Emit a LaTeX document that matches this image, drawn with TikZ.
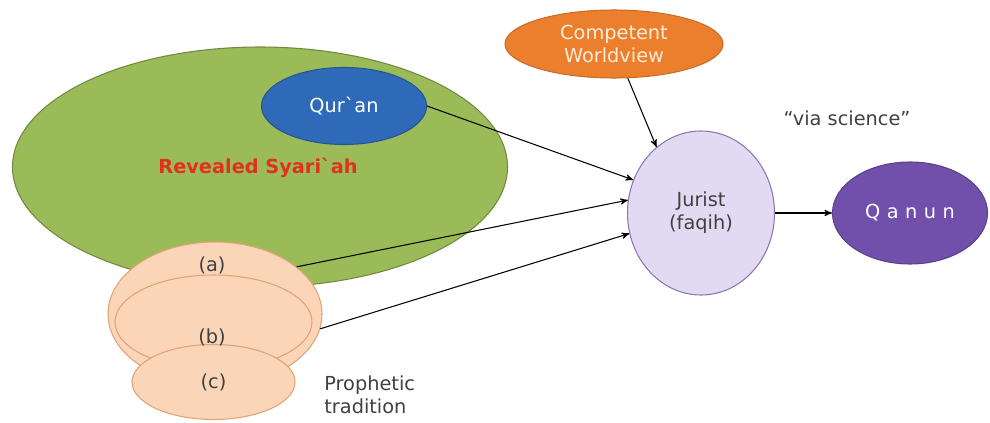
\documentclass[tikz,border=0pt]{standalone}
\usepackage{fontspec}
\setmainfont{DejaVu Sans}
\usepackage{xcolor}
\usepackage{tikz}
\usetikzlibrary{arrows,positioning,shapes.geometric}
\definecolor{syarigreen}{HTML}{9BBB59}
\definecolor{syariline}{HTML}{71893F}
\definecolor{quranblue}{HTML}{2E6AB8}
\definecolor{viewor}{HTML}{EC7F2E}
\definecolor{peach}{HTML}{FBD5B8}
\definecolor{peachline}{HTML}{E2A274}
\definecolor{lavender}{HTML}{E2DAF2}
\definecolor{lavline}{HTML}{8A77AE}
\definecolor{qanunpurple}{HTML}{7050AA}
\definecolor{redtext}{HTML}{E0301E}
\tikzset{blob/.style={draw,ellipse,inner sep=0pt,align=center}}
\tikzset{trad/.style={blob,fill=peach,draw=peachline,text=black!75}}

\begin{document}
\begin{tikzpicture}[-, >=stealth', semithick, font=\fontsize{11}{13}\selectfont]
    \useasboundingbox (0,0) rectangle (19.8,-8.46);
    \node[blob,fill=syarigreen,draw=syariline,minimum width=9.9cm,minimum height=4.8cm] (syariah) at (5.2,-3.34) {};
    \node[blob,fill=quranblue,draw=quranblue!80!black,text=white,minimum width=3.3cm,minimum height=1.54cm] (quran) at (6.88,-2.12) {Qur\textasciigrave an};
    \node[text=redtext,font=\fontsize{11}{13}\selectfont\bfseries] (revealed) at (5.16,-3.36) {Revealed Syari\textasciigrave ah};

    \node[trad,minimum width=4.28cm,minimum height=2.88cm] (tradA) at (4.3,-6.28) {};
    \node[trad,minimum width=3.94cm,minimum height=1.88cm] (tradB) at (4.27,-6.44) {};
    \node[trad,minimum width=3.26cm,minimum height=1.5cm] (tradC) at (4.27,-7.64) {(c)};
    \node[text=black!75] (labA) at (4.24,-5.3) {(a)};
    \node[text=black!75] (labB) at (4.24,-6.74) {(b)};
    \node[anchor=west,align=left,text=black!75] (prophetic) at (6.36,-7.9) {Prophetic\\tradition};

    \node[blob,fill=viewor,draw=viewor!85!black,text=orange!15,minimum width=4.36cm,minimum height=1.36cm] (worldview) at (12.28,-0.88) {Competent\\Worldview};
    \node[blob,fill=lavender,draw=lavline,text=black!75,minimum width=2.94cm,minimum height=3.28cm] (jurist) at (14.02,-4.26) {Jurist\\(faqih)};
    \node[blob,fill=qanunpurple,draw=qanunpurple!80!black,text=white,minimum width=3.1cm,minimum height=2.04cm] (qanun) at (18.2,-4.26) {Q\,\,a\,\,n\,\,u\,\,n};
    \node[text=black!75] (science) at (16.94,-2.36) {“via science”};

    \path[->] (quran.east) edge (jurist.154)
              (tradA.30) edge (jurist.170)
              (tradA.-8) edge (jurist.196)
              (worldview.292) edge (jurist.124)
              (jurist.east) edge (qanun.west);
\end{tikzpicture}
\end{document}
